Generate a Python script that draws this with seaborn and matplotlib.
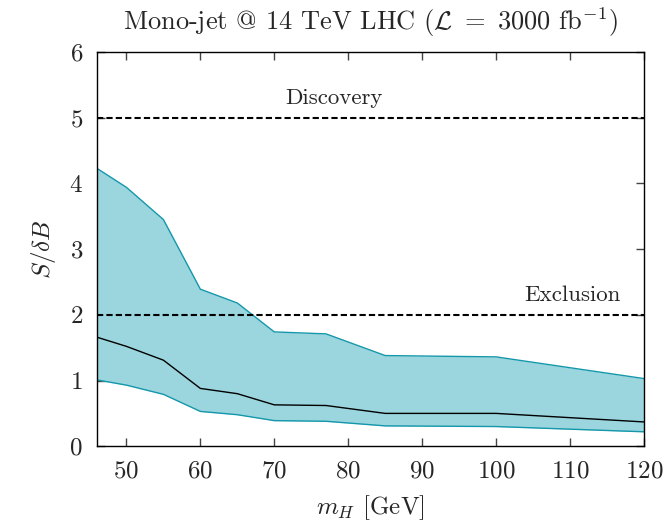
import pandas as pd
import matplotlib
matplotlib.use("Agg")
import matplotlib.pyplot as plt
import seaborn as sns

# values
mass = [46, 50, 55, 60, 65, 70, 77, 85, 100, 120]
central = [1.66, 1.52, 1.31, 0.88, 0.80, 0.63, 0.62, 0.50, 0.50, 0.37]
upper = [4.23, 3.94, 3.45, 2.39, 2.18, 1.74, 1.71, 1.38, 1.36, 1.03]
lower = [1.01, 0.93, 0.79, 0.53, 0.48, 0.39, 0.38, 0.31, 0.30, 0.22]
discovery = 5
exclusion = 2
x_ticks = [50, 60, 70, 80, 90, 100, 110, 120]
y_ticks = [0, 1, 2, 3, 4, 5, 6]

df = pd.DataFrame({"mH": mass, "central": central, "upper": upper, "lower": lower})

sns.set_style("ticks")
plt.rcParams["font.family"] = ["cmr10", "DejaVu Serif"]
plt.rcParams["mathtext.fontset"] = "cm"
plt.rcParams["axes.unicode_minus"] = False
plt.rcParams["axes.formatter.use_mathtext"] = True

fig = plt.figure(figsize=(6.68, 5.25), dpi=100)
ax = fig.add_axes([0.145, 0.150, 0.819, 0.751])

band_edge = "#1497aa"
ax.fill_between(df["mH"], df["lower"], df["upper"], color="#9bd6df", lw=0, zorder=1)
sns.lineplot(data=df, x="mH", y="upper", color=band_edge, lw=1.0, ax=ax, zorder=2)
sns.lineplot(data=df, x="mH", y="lower", color=band_edge, lw=1.0, ax=ax, zorder=2)
sns.lineplot(data=df, x="mH", y="central", color="black", lw=1.0, ax=ax, zorder=3)

ax.axhline(discovery, color="black", ls=(0, (3, 1.5)), lw=1.5, zorder=4)
ax.axhline(exclusion, color="black", ls=(0, (3, 1.5)), lw=1.5, zorder=4)
ax.text(78.1, discovery + 0.15, "Discovery", ha="center", va="bottom", fontsize=16.5)
ax.text(110.3, exclusion + 0.15, "Exclusion", ha="center", va="bottom", fontsize=16.5)

ax.set_xlim(46, 120)
ax.set_ylim(0, 6)
ax.set_xticks(x_ticks)
ax.set_yticks(y_ticks)
ax.tick_params(direction="in", top=True, right=True, length=6, width=1,
               labelsize=18, color="#444444", pad=10)
for sp in ax.spines.values():
    sp.set_visible(True)
    sp.set_linewidth(1.0)
    sp.set_color("black")

ax.set_xlabel(r"$m_H$ [GeV]", fontsize=18, labelpad=8)
ax.set_ylabel(r"$S/\delta B$", fontsize=18, labelpad=8)
ax.set_title(r"Mono-jet @ 14 TeV LHC ($\mathcal{L}\ =\ 3000$ fb$^{-1}$)", fontsize=19, pad=16)

fig.savefig("out.png", dpi=100)
